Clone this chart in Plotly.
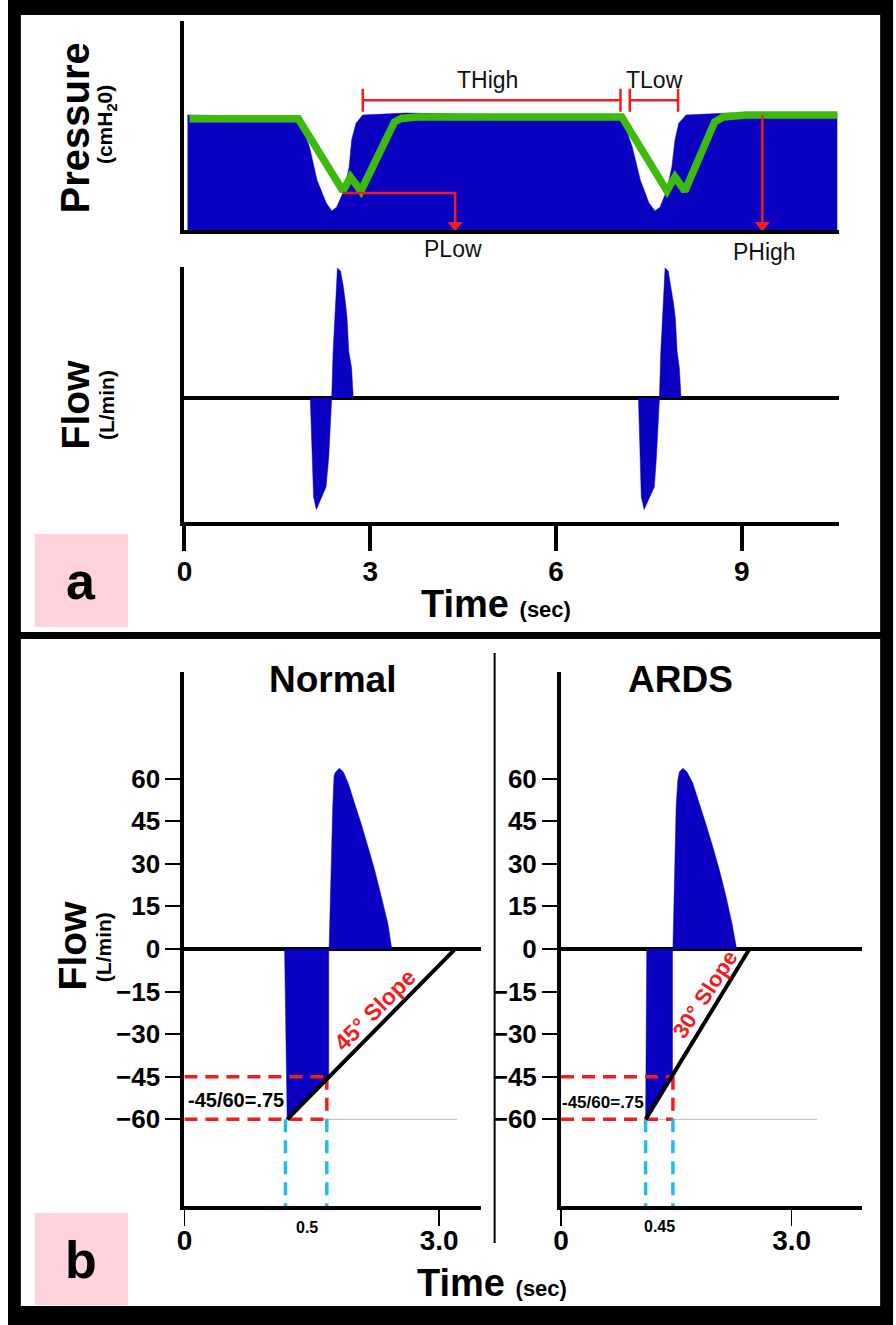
import plotly.graph_objects as go

W, H = 896, 1325
FONT = "Liberation Sans, Arial, Helvetica, sans-serif"
BLUE = "#0A00C2"
GREEN = "#3DBB0C"
RED = "#F21C1C"
CYAN = "#1FBDEE"
PINK = "#FFD3DB"

# ---------------- Panel a : pressure (cmH2O) ----------------
press_fill_t = [0.05, 1.84, 2.02, 2.14, 2.29, 2.38, 2.46, 2.58, 2.66, 2.70, 2.77, 2.88, 3.57,
                7.06, 7.23, 7.36, 7.50, 7.60, 7.68, 7.79, 7.87, 7.92, 7.98, 8.10, 8.78, 10.54]
press_fill_p = [29.5, 29.0, 21.3, 12.8, 6.9, 4.9, 5.9, 10.3, 16.2, 23.1, 27.4, 29.5, 30.0,
                29.0, 21.3, 12.8, 6.9, 4.9, 5.9, 10.3, 16.2, 23.1, 27.4, 29.5, 30.0, 30.0]
press_line_t = [0.08, 1.84, 2.56, 2.68, 2.85, 3.39, 3.50, 3.76, 7.06,
                7.79, 7.92, 8.08, 8.56, 8.70, 9.07, 10.54]
press_line_p = [28.5, 28.5, 10.0, 13.6, 10.0, 27.7, 28.6, 29.0, 29.0,
                10.0, 13.6, 10.0, 27.7, 29.0, 29.5, 29.5]

# ---------------- Panel a : flow (L/min) ----------------
flow_c1_t = [2.032, 2.060, 2.085, 2.131, 2.286, 2.330, 2.360, 2.378, 2.400, 2.424, 2.450, 2.470,
             2.520, 2.562, 2.600, 2.626, 2.653, 2.699, 2.726]
flow_c1_v = [0, -26.0, -49.9, -56.2, -44.9, -30.0, -13.0, 0, 23.0, 40.2, 59.0, 65.5,
             64.0, 56.8, 48.0, 40.2, 23.5, 15.2, 0]
flow_c2_t = [7.330, 7.355, 7.376, 7.421, 7.586, 7.620, 7.650, 7.669, 7.690, 7.715, 7.745, 7.760,
             7.810, 7.853, 7.895, 7.926, 7.954, 7.990, 8.018]
flow_c2_v = [0, -26.0, -49.9, -56.2, -44.9, -30.0, -13.0, 0, 23.0, 40.2, 59.0, 65.5,
             64.0, 56.8, 48.0, 40.2, 23.5, 15.2, 0]
time_a_ticks = [0, 3, 6, 9]

# annotation values panel a
thigh_t = [2.88, 7.04]
tlow_t = [7.19, 7.97]
bracket_p = 33.3
bracket_cap = [30.3, 36.2]
plow_t = [2.56, 4.37]
plow_p = 9.5
phigh_t = 9.33
phigh_p = 29.5

# ---------------- Panel b : Normal ----------------
norm_neg_t = [1.18, 1.21, 1.70, 1.70]
norm_neg_v = [0, -60, -45, 0]
norm_pos_t = [1.704, 1.723, 1.747, 1.762, 1.774, 1.824, 1.870, 1.929, 2.007, 2.085, 2.162, 2.240,
              2.319, 2.396, 2.442]
norm_pos_v = [0, 26.7, 50, 60.7, 62, 63.6, 62.4, 58.3, 51.3, 43.7, 36, 27.8, 18.4, 9.0, 0]
norm_slope_t = [1.21, 3.19]
norm_slope_v = [-60, 0]
norm_mark_t = [1.19, 1.677]
norm_grey_t = [1.56, 3.21]

# ---------------- Panel b : ARDS ----------------
ards_neg_t = [1.115, 1.10, 1.44, 1.45, 1.45]
ards_neg_v = [0, -60, -45, -45, 0]
ards_pos_t = [1.455, 1.477, 1.497, 1.519, 1.541, 1.585, 1.637, 1.714, 1.800, 1.887, 1.973, 2.059,
              2.146, 2.223, 2.284]
ards_pos_v = [0, 26.7, 50, 59.5, 62.4, 63.6, 62.4, 58.3, 51.3, 43.7, 36, 27.8, 18.4, 9.0, 0]
ards_slope_t = [1.10, 2.45]
ards_slope_v = [-60, 0]
ards_mark_t = [1.10, 1.455]
ards_grey_t = [1.11, 3.33]

mark_levels = [-45, -60]
flow_ticks = [-60, -45, -30, -15, 0, 15, 30, 45, 60]
time_b_ticks = [0, 3]
time_b_text = ["0", "3.0"]


def fx(px):
    return px / W


def fy(py):
    return 1 - py / H


fig = go.Figure()

# pressure
fig.add_trace(go.Scatter(x=press_fill_t, y=press_fill_p, xaxis="x2", yaxis="y", mode="lines",
                         fill="tozeroy", fillcolor=BLUE, line=dict(color=BLUE, width=0.5),
                         hoverinfo="skip"))
fig.add_trace(go.Scatter(x=press_line_t, y=press_line_p, xaxis="x2", yaxis="y", mode="lines",
                         line=dict(color=GREEN, width=7.5), hoverinfo="skip"))
# flow a
for tt, vv in [(flow_c1_t, flow_c1_v), (flow_c2_t, flow_c2_v)]:
    fig.add_trace(go.Scatter(x=tt, y=vv, xaxis="x", yaxis="y2", mode="lines", fill="tozeroy",
                             fillcolor=BLUE, line=dict(color=BLUE, width=0.5), hoverinfo="skip"))

# red annotations panel a (lines)
red_line = dict(color=RED, width=2.5)
for t0, t1 in [thigh_t, tlow_t]:
    fig.add_trace(go.Scatter(x=[t0, t1], y=[bracket_p, bracket_p], xaxis="x2", yaxis="y",
                             mode="lines", line=red_line, hoverinfo="skip"))
    for t in (t0, t1):
        fig.add_trace(go.Scatter(x=[t, t], y=bracket_cap, xaxis="x2", yaxis="y",
                                 mode="lines", line=red_line, hoverinfo="skip"))
fig.add_trace(go.Scatter(x=[plow_t[0], plow_t[1], plow_t[1]], y=[plow_p, plow_p, 2], xaxis="x2",
                         yaxis="y", mode="lines", line=red_line, hoverinfo="skip"))
fig.add_trace(go.Scatter(x=[phigh_t, phigh_t], y=[phigh_p, 2], xaxis="x2", yaxis="y",
                         mode="lines", line=red_line, hoverinfo="skip"))
fig.add_trace(go.Scatter(x=[plow_t[1], phigh_t], y=[1.2, 1.2], xaxis="x2", yaxis="y",
                         mode="markers", cliponaxis=False,
                         marker=dict(symbol="triangle-down", size=13, color=RED),
                         hoverinfo="skip"))

# panel b traces
for (xa, ya, neg_t, neg_v, pos_t, pos_v, sl_t, sl_v, mk_t, gr_t) in [
        ("x3", "y3", norm_neg_t, norm_neg_v, norm_pos_t, norm_pos_v, norm_slope_t, norm_slope_v,
         norm_mark_t, norm_grey_t),
        ("x4", "y4", ards_neg_t, ards_neg_v, ards_pos_t, ards_pos_v, ards_slope_t, ards_slope_v,
         ards_mark_t, ards_grey_t)]:
    fig.add_trace(go.Scatter(x=gr_t, y=[mark_levels[1]] * 2, xaxis=xa, yaxis=ya, mode="lines",
                             line=dict(color="#BBBBBB", width=1), hoverinfo="skip"))
    fig.add_trace(go.Scatter(x=neg_t, y=neg_v, xaxis=xa, yaxis=ya, mode="lines", fill="toself",
                             fillcolor=BLUE, line=dict(color=BLUE, width=0.5), hoverinfo="skip"))
    fig.add_trace(go.Scatter(x=pos_t, y=pos_v, xaxis=xa, yaxis=ya, mode="lines", fill="tozeroy",
                             fillcolor=BLUE, line=dict(color=BLUE, width=0.5), hoverinfo="skip"))
    dash = "13px,8px"
    for lv in mark_levels:
        fig.add_trace(go.Scatter(x=[0, mk_t[1]], y=[lv, lv], xaxis=xa, yaxis=ya, mode="lines",
                                 line=dict(color=RED, width=3.5, dash=dash), hoverinfo="skip"))
    fig.add_trace(go.Scatter(x=[mk_t[1], mk_t[1]], y=mark_levels, xaxis=xa, yaxis=ya, mode="lines",
                             line=dict(color=RED, width=3.5, dash=dash), hoverinfo="skip"))
    for t in mk_t:
        fig.add_trace(go.Scatter(x=[t, t], y=[mark_levels[1], -90.5], xaxis=xa, yaxis=ya,
                                 mode="lines", line=dict(color=CYAN, width=3.5, dash=dash),
                                 hoverinfo="skip"))
    fig.add_trace(go.Scatter(x=sl_t, y=sl_v, xaxis=xa, yaxis=ya, mode="lines",
                             line=dict(color="black", width=4), hoverinfo="skip"))

axis_common = dict(showgrid=False, showline=True, linecolor="black", fixedrange=True)
tickfont_a = dict(family=FONT, size=28, color="black", weight="bold")
tickfont_b = dict(family=FONT, size=26, color="black", weight="bold")

fig.update_layout(
    width=W, height=H, margin=dict(l=0, r=0, t=0, b=0), autosize=False,
    paper_bgcolor="white", plot_bgcolor="rgba(0,0,0,0)", showlegend=False,
    xaxis=dict(**axis_common, domain=[fx(178), fx(838)], range=[0, 10.56], anchor="y2",
               linewidth=4, ticks="outside", ticklen=25, tickwidth=4, tickcolor="black",
               tickvals=time_a_ticks, tickfont=tickfont_a, zeroline=False,
               ticklabelstandoff=-4),
    xaxis2=dict(**axis_common, domain=[fx(178), fx(838)], range=[0, 10.56], anchor="y",
                matches="x", linewidth=4, showticklabels=False, ticks="", zeroline=False),
    yaxis=dict(**axis_common, domain=[fy(230), fy(21)], range=[0, 53.6], anchor="x2",
               linewidth=4, showticklabels=False, ticks="", zeroline=False),
    yaxis2=dict(**axis_common, domain=[fy(522), fy(267)], range=[-62.5, 66], anchor="x",
                linewidth=4, showticklabels=False, ticks="", zeroline=True,
                zerolinecolor="black", zerolinewidth=4),
    xaxis3=dict(**axis_common, domain=[fx(178), fx(477)], range=[0, 3.49], anchor="y3",
                linewidth=4, ticks="outside", ticklen=16, tickwidth=1.5, tickcolor="black",
                tickvals=time_b_ticks, ticktext=time_b_text, tickfont=tickfont_a, zeroline=False,
                ticklabelstandoff=-10),
    yaxis3=dict(**axis_common, domain=[fy(1206), fy(672)], range=[-90.5, 97.5], anchor="x3",
                linewidth=4, ticks="outside", ticklen=15, tickwidth=2, tickcolor="black",
                tickvals=flow_ticks, tickfont=tickfont_b, zeroline=True, zerolinecolor="black",
                zerolinewidth=4),
    xaxis4=dict(**axis_common, domain=[fx(558), fx(862)], range=[0, 3.918], anchor="y4",
                linewidth=4, ticks="outside", ticklen=16, tickwidth=1.5, tickcolor="black",
                tickvals=time_b_ticks, ticktext=time_b_text, tickfont=tickfont_a, zeroline=False,
                ticklabelstandoff=-10),
    yaxis4=dict(**axis_common, domain=[fy(1206), fy(672)], range=[-90.5, 97.5], anchor="x4",
                linewidth=4, ticks="outside", ticklen=15, tickwidth=2, tickcolor="black",
                tickvals=flow_ticks, tickfont=tickfont_b, zeroline=True, zerolinecolor="black",
                zerolinewidth=4),
)

shapes = []
# frame
for x0, y0, x1, y1 in [(0, 0, 893, 15), (0, 0, 13, 1325), (880, 0, 893, 1325),
                       (0, 1306, 893, 1325), (0, 632, 893, 639)]:
    shapes.append(dict(type="rect", xref="paper", yref="paper", x0=fx(x0), x1=fx(x1),
                       y0=fy(y0), y1=fy(y1), fillcolor="black", line=dict(width=0), layer="above"))
# pink label boxes
for y0, y1 in [(534, 627), (1213, 1305)]:
    shapes.append(dict(type="rect", xref="paper", yref="paper", x0=fx(27), x1=fx(121),
                       y0=fy(y0), y1=fy(y1), fillcolor=PINK, line=dict(width=0), layer="below"))
# divider between Normal and ARDS
shapes.append(dict(type="line", xref="paper", yref="paper", x0=fx(491), x1=fx(491),
                   y0=fy(653), y1=fy(1243), line=dict(color="black", width=2)))
fig.update_layout(shapes=shapes)


def txt(x, y, text, size, bold=True, color="black", angle=0):
    return dict(x=fx(x), y=fy(y), xref="paper", yref="paper", text=text, showarrow=False,
                textangle=angle, xanchor="center", yanchor="middle",
                font=dict(family=FONT, size=size, color=color, weight="bold" if bold else "normal"))


ann = [
    txt(68, 128, "Pressure", 40, angle=-90),
    txt(99, 125, "(cmH<sub>2</sub>0)", 21, angle=-90),
    txt(69, 405, "Flow", 39, angle=-90),
    txt(100, 405, "(L/min)", 21, angle=-90),
    txt(65, 946, "Flow", 39, angle=-90),
    txt(96, 947, "(L/min)", 21, angle=-90),
    txt(484, 80, "THigh", 23, bold=False, color="#111111"),
    txt(652, 80, "TLow", 23, bold=False, color="#111111"),
    txt(449, 249, "PLow", 23, bold=False, color="#111111"),
    txt(763, 252, "PHigh", 23, bold=False, color="#111111"),
    txt(492, 604, "Time <span style='font-size:22px'>(sec)</span>", 38),
    txt(488, 1283, "Time <span style='font-size:22px'>(sec)</span>", 38),
    txt(74, 581, "a", 52),
    txt(74, 1260, "b", 52),
    txt(327, 679, "Normal", 37),
    txt(679, 679, "ARDS", 37),
    txt(302, 1227, "0.5", 16),
    txt(657, 1226, "0.45", 16),
    txt(230, 1100, "-45/60=.75", 20),
    txt(600, 1102, "-45/60=.75", 17),
    txt(370, 1010, "45° Slope", 23, color=RED, angle=-45),
    txt(703, 994, "30° Slope", 22, color=RED, angle=-57),
]
fig.update_layout(annotations=ann)

fig.write_html("out.html", config={"displayModeBar": False, "staticPlot": True},
               post_script="document.body.style.margin='0px';document.body.style.overflow='hidden';")
